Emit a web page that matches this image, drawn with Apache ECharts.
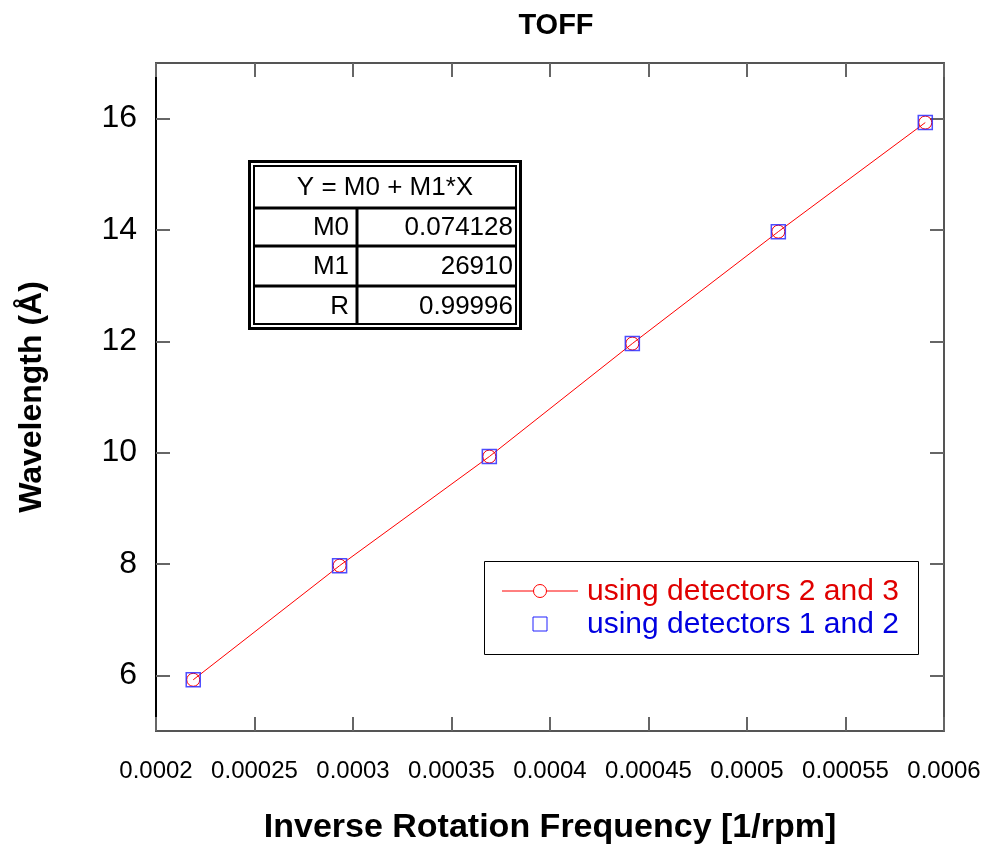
<!DOCTYPE html>
<html>
<head>
<meta charset="utf-8">
<script src="https://cdn.jsdelivr.net/npm/echarts@6/dist/echarts.min.js"></script>
<style>
  html, body { margin: 0; padding: 0; background: #fff; }
  #chart { width: 986px; height: 850px; }
</style>
</head>
<body>
<div id="chart"></div>
<script>
// inverse rotation frequency [1/rpm] vs wavelength [A]
var invFreq = [0.0002189, 0.0002932, 0.0003692, 0.0004418, 0.0005159, 0.0005905];
var wl23 = [5.92, 7.97, 9.93, 11.96, 13.97, 15.93];
var wl12 = [5.92, 7.97, 9.93, 11.96, 13.97, 15.93];
var yTicks = [6, 8, 10, 12, 14, 16];
var seriesNames = ['using detectors 2 and 3', 'using detectors 1 and 2'];
var fitRows = [['M0', '0.074128'], ['M1', '26910'], ['R', '0.99996']];
var fitTitle = 'Y = M0 + M1*X';

var FONT = '"Liberation Sans", Arial, sans-serif';
var RED = '#ff0000', BLUE = '#2020ff';

function pairs(xs, ys) {
  return xs.map(function (x, i) { return [x, ys[i]]; });
}

var chart = echarts.init(document.getElementById('chart'));

// fit table, drawn as graphic
var rowY = [165, 208, 246, 286, 325];
var colX = 357;
var g = [];
g.push({ type: 'rect', shape: { x: 249.5, y: 161.5, width: 271, height: 167 },
  style: { fill: '#fff', stroke: '#000', lineWidth: 3 }, z: 10 });
g.push({ type: 'rect', shape: { x: 254, y: 166, width: 262, height: 158 },
  style: { fill: null, stroke: '#000', lineWidth: 2 }, z: 11 });
for (var r = 1; r < 4; r++) {
  g.push({ type: 'line', shape: { x1: 253, y1: rowY[r], x2: 517, y2: rowY[r] },
    style: { stroke: '#000', lineWidth: 3 }, z: 11 });
}
g.push({ type: 'line', shape: { x1: colX, y1: rowY[1], x2: colX, y2: 325 },
  style: { stroke: '#000', lineWidth: 3 }, z: 11 });
g.push({ type: 'text', x: 385, y: (rowY[0] + rowY[1]) / 2 + 1, z: 12,
  style: { text: fitTitle, font: '26px ' + FONT, fill: '#000', align: 'center', verticalAlign: 'middle' } });
fitRows.forEach(function (row, i) {
  var cy = (rowY[i + 1] + rowY[i + 2]) / 2 + 1;
  g.push({ type: 'text', x: 349, y: cy, z: 12,
    style: { text: row[0], font: '26px ' + FONT, fill: '#000', align: 'right', verticalAlign: 'middle' } });
  g.push({ type: 'text', x: 513, y: cy, z: 12,
    style: { text: row[1], font: '26px ' + FONT, fill: '#000', align: 'right', verticalAlign: 'middle' } });
});

// legend box, drawn as graphic
g.push({ type: 'rect', shape: { x: 484.5, y: 561.5, width: 434, height: 93 },
  style: { fill: '#fff', stroke: '#000', lineWidth: 1 }, z: 5 });
g.push({ type: 'line', shape: { x1: 502, y1: 591, x2: 578, y2: 591 },
  style: { stroke: RED, lineWidth: 1 }, z: 6 });
g.push({ type: 'circle', shape: { cx: 540, cy: 591, r: 6.5 },
  style: { fill: '#fff', stroke: RED, lineWidth: 1 }, z: 7 });
g.push({ type: 'text', x: 587, y: 592, z: 7,
  style: { text: seriesNames[0], font: '30px ' + FONT, fill: '#e00000', verticalAlign: 'middle' } });
g.push({ type: 'rect', shape: { x: 533, y: 617, width: 14, height: 14 },
  style: { fill: null, stroke: BLUE, lineWidth: 1 }, z: 7 });
g.push({ type: 'text', x: 587, y: 625, z: 7,
  style: { text: seriesNames[1], font: '30px ' + FONT, fill: '#0000e0', verticalAlign: 'middle' } });

var axisLineGrey = { lineStyle: { color: '#555', width: 2 } };
var tickStyle = { color: '#666', width: 2 };

chart.setOption({
  animation: false,
  backgroundColor: '#fff',
  title: {
    text: 'TOFF',
    left: 551, top: 6,
    textAlign: 'center',
    textStyle: { fontFamily: FONT, fontSize: 29, fontWeight: 'bold', color: '#000' }
  },
  grid: { left: 156, right: 42, top: 63, bottom: 119 },
  xAxis: [{
    type: 'value', min: 0.0002, max: 0.0006, interval: 0.00005,
    name: 'Inverse Rotation Frequency [1/rpm]', nameLocation: 'middle', nameGap: 80,
    nameTextStyle: { fontFamily: FONT, fontSize: 34, fontWeight: 'bold', color: '#000' },
    axisLine: axisLineGrey,
    axisTick: { inside: true, length: 14, lineStyle: tickStyle },
    axisLabel: { margin: 28, fontFamily: FONT, fontSize: 24, color: '#000',
      formatter: function (v) { return String(+v.toFixed(5)); } },
    splitLine: { show: false }
  }, {
    type: 'value', position: 'top', min: 0.0002, max: 0.0006, interval: 0.00005,
    axisLine: axisLineGrey,
    axisTick: { inside: true, length: 14, lineStyle: tickStyle },
    axisLabel: { show: false }, splitLine: { show: false }
  }],
  yAxis: [{
    type: 'value', min: 5, max: 17,
    name: 'Wavelength (Å)', nameLocation: 'middle', nameGap: 108,
    nameTextStyle: { fontFamily: FONT, fontSize: 32, fontWeight: 'bold', color: '#000' },
    axisLine: { lineStyle: { color: '#000', width: 2 } },
    axisTick: { inside: true, length: 14, lineStyle: tickStyle, customValues: yTicks },
    axisLabel: { margin: 19, fontFamily: FONT, fontSize: 32, color: '#000', customValues: yTicks },
    splitLine: { show: false }
  }, {
    type: 'value', position: 'right', min: 5, max: 17,
    axisLine: axisLineGrey,
    axisTick: { inside: true, length: 14, lineStyle: tickStyle, customValues: yTicks },
    axisLabel: { show: false }, splitLine: { show: false }
  }],
  graphic: g,
  series: [{
    name: seriesNames[0],
    type: 'line',
    data: pairs(invFreq, wl23),
    symbol: 'circle', symbolSize: 13,
    showAllSymbol: true,
    lineStyle: { color: RED, width: 1 },
    itemStyle: { color: 'rgba(0,0,0,0)', borderColor: RED, borderWidth: 1 },
    z: 3
  }, {
    name: seriesNames[1],
    type: 'scatter',
    data: pairs(invFreq, wl12),
    symbol: 'rect', symbolSize: 14,
    itemStyle: { color: 'rgba(0,0,0,0)', borderColor: BLUE, borderWidth: 1.5 },
    z: 4
  }]
});
</script>
</body>
</html>
